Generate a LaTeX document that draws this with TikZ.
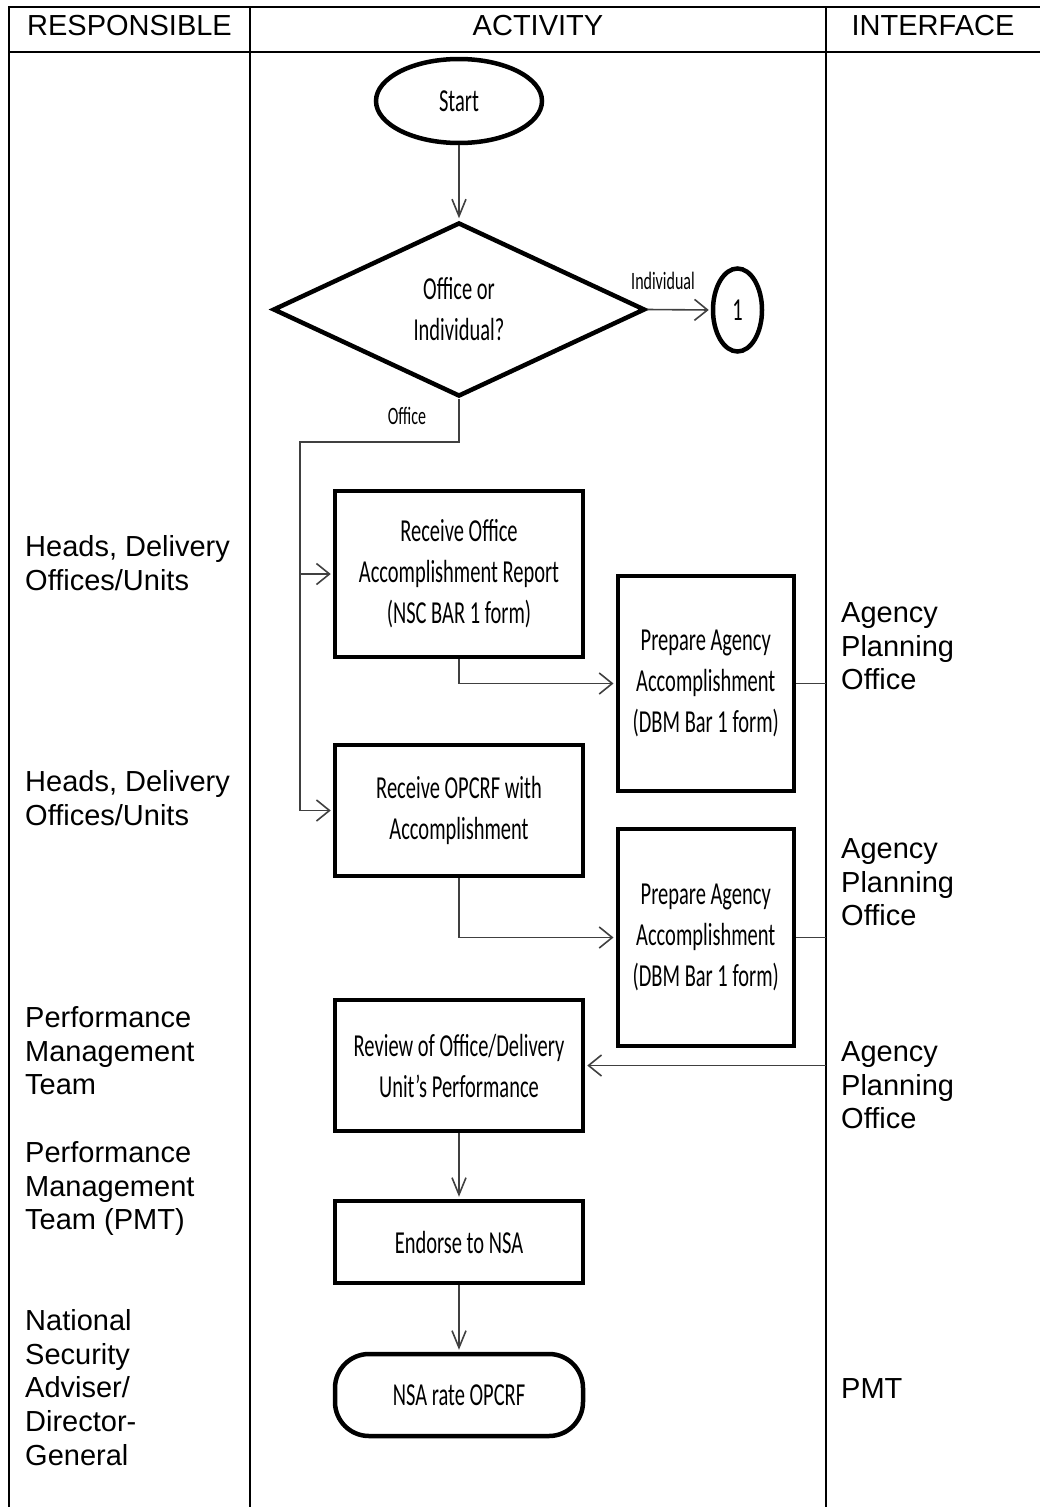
\documentclass[tikz,border=0pt]{standalone}
\usepackage{fontspec}
\setmainfont{Liberation Sans}
\newfontfamily\flowfont{Carlito}[FakeStretch=0.64]
\usetikzlibrary{shapes.geometric,arrows.meta}
\definecolor{flowgray}{HTML}{404040}

\begin{document}
\begin{tikzpicture}[x=1pt,y=-1pt,
  grid/.style={line width=2.4pt, line cap=rect},
  hdr/.style={font=\fontsize{29}{33.6}\selectfont, inner sep=0pt},
  role/.style={font=\fontsize{29}{33.6}\selectfont, align=left, anchor=north west, inner sep=0pt},
  flowtext/.style={font=\flowfont\fontsize{32}{41}\selectfont, align=center, inner sep=0pt},
  proc/.style={flowtext, draw, line width=4.5pt, rectangle, minimum width=248pt},
  startbox/.style={flowtext, draw, ellipse, line width=4.5pt, minimum width=166pt, minimum height=84pt},
  decision/.style={flowtext, draw, diamond, aspect=2, line width=4.5pt, minimum width=372pt, minimum height=174pt},
  offpage/.style={flowtext, draw, ellipse, line width=4.5pt, minimum width=49pt, minimum height=83pt},
  lbl/.style={font=\flowfont\fontsize{25}{30}\selectfont, inner sep=0pt},
  conn/.style={draw=flowgray, line width=1.6pt},
  down/.style={conn, shorten >=2pt, -{Straight Barb[length=17pt,width=14pt]}},
  side/.style={conn, shorten >=2pt, -{Straight Barb[length=13pt,width=21pt]}}
]
\useasboundingbox (0,0) rectangle (1040,1507);

% table frame
\draw[grid] (9,7) -- (1040,7);
\draw[grid] (9,52) -- (1040,52);
\draw[grid] (9,7) -- (9,1507);
\draw[grid] (250,7) -- (250,1507);
\draw[grid] (826,7) -- (826,1507);

% column headings
\node[hdr] (hresp) at (129.5,26) {RESPONSIBLE};
\node[hdr] (hact) at (538,26) {ACTIVITY};
\node[hdr] (hint) at (933,26) {INTERFACE};

% responsible column
\node[role] (r1) at (25,533) {\strut Heads, Delivery\\Offices/Units};
\node[role] (r2) at (25,768) {\strut Heads, Delivery\\Offices/Units};
\node[role] (r3) at (25,1004) {\strut Performance\\Management\\Team};
\node[role] (r4) at (25,1139) {\strut Performance\\Management\\Team (PMT)};
\node[role] (r5) at (25,1307) {\strut National\\Security\\Adviser/\\Director-\\General};

% interface column
\node[role] (i1) at (841,599) {\strut Agency\\Planning\\Office};
\node[role] (i2) at (841,835) {\strut Agency\\Planning\\Office};
\node[role] (i3) at (841,1038) {\strut Agency\\Planning\\Office};
\node[role] (i4) at (841,1375) {\strut PMT};

% activity column
\node[startbox] (start) at (459,101) {Start};
\node[decision] (dec) at (459,309.5) {Office or\\Individual?};
\node[offpage] (c1) at (737.5,310) {1};
\node[proc, minimum height=166pt] (box1) at (459,574) {Receive Office\\Accomplishment Report\\(NSC BAR 1 form)};
\node[proc, minimum width=176pt, minimum height=215pt] (box2) at (705.75,683.5) {Prepare Agency\\Accomplishment\\(DBM Bar 1 form)};
\node[proc, minimum height=131pt] (box3) at (459,810.5) {Receive OPCRF with\\Accomplishment};
\node[proc, minimum width=176pt, minimum height=217pt] (box4) at (705.75,937.5) {Prepare Agency\\Accomplishment\\(DBM Bar 1 form)};
\node[proc, minimum height=131pt] (box5) at (459,1065.5) {Review of Office/Delivery\\Unit’s Performance};
\node[proc, minimum height=82pt] (box6) at (459,1242) {Endorse to NSA};
\node[proc, minimum height=82pt, rounded corners=34pt] (nsa) at (459,1395) {NSA rate OPCRF};

\node[lbl] (lind) at (663,281) {Individual};
\node[lbl] (loff) at (407,416) {Office};

\coordinate (ifc) at (826,0);
\coordinate (bend) at (300,442);

% connectors
\draw[down] (start.south) -- (dec.north);
\draw[side] (dec.east) -- (c1.west);
\draw[side] (dec.south) |- (bend) |- (box3.west);
\draw[side] (bend |- box1.west) -- (box1.west);
\draw[side] (box1.south) |- (box2.west);
\draw[conn] (box2.east) -- (box2.east -| ifc);
\draw[side] (box3.south) |- (box4.west);
\draw[conn] (box4.east) -- (box4.east -| ifc);
\draw[side] (box5.east -| ifc) -- (box5.east);
\draw[down] (box5.south) -- (box6.north);
\draw[down] (box6.south) -- (nsa.north);
\end{tikzpicture}
\end{document}
